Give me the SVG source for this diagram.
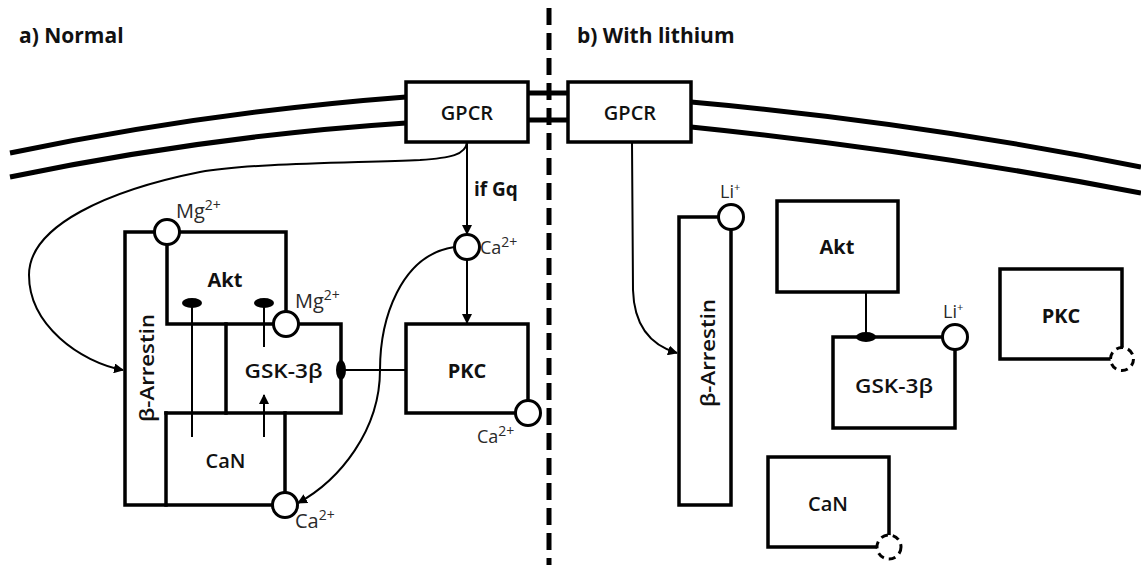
<svg xmlns="http://www.w3.org/2000/svg" width="1141" height="565" viewBox="0 0 1141 565">
<style>
text{font-family:"Open Sans","Liberation Sans",sans-serif;fill:#111}
.t{font-size:21px;font-weight:bold}
.lb{font-size:20px;text-anchor:middle;font-weight:600}
.b{font-weight:bold}
.ion{font-size:20px;fill:#2a2a2a}
.ion2{font-size:18px;fill:#2a2a2a}
.sup{font-size:14px}
.mem{fill:none;stroke:#000;stroke-width:5}
.box{fill:none;stroke:#000;stroke-width:3.5;stroke-linejoin:miter;stroke-linecap:square}
.wbox{fill:#fff;stroke:#000;stroke-width:3.5}
.c{fill:#fff;stroke:#000;stroke-width:3}
.dc{fill:#fff;stroke:#000;stroke-width:3;stroke-dasharray:7 5}
.ln{fill:none;stroke:#000;stroke-width:2}
.inh{fill:#000}
</style>
<defs>
<marker id="ah" viewBox="0 0 10 10" refX="9" refY="5" markerWidth="10" markerHeight="10" markerUnits="userSpaceOnUse" orient="auto">
<path d="M0,0 L10,5 L0,10 z" fill="#000"/>
</marker>
</defs>

<text class="t" x="19" y="43">a) Normal</text>
<text class="t" x="577" y="43">b) With lithium</text>

<line x1="549" y1="8" x2="549" y2="565" stroke="#000" stroke-width="5" stroke-dasharray="17 8"/>

<g id="membrane">
<path class="mem" d="M10,153 Q208,112 406,97"/>
<path class="mem" d="M10,177 Q208,136 406,123"/>
<line class="mem" x1="528" y1="93" x2="568" y2="93"/>
<line class="mem" x1="528" y1="120" x2="568" y2="120"/>
<path class="mem" d="M691,102 Q916,122 1141,167"/>
<path class="mem" d="M691,127 Q916,150 1141,193"/>
</g>

<g id="connectors">
<path class="ln" d="M467,142 C466,155 450,158 420,160 C350,163 250,163 200,172 C110,190 29,225 29,275 C29,325 80,362 123,370" marker-end="url(#ah)"/>
<line class="ln" x1="467" y1="142" x2="467" y2="234" marker-end="url(#ah)"/>
<line class="ln" x1="467" y1="259.5" x2="467" y2="323" marker-end="url(#ah)"/>
<path class="ln" d="M454.5,247 C400,255 380,320 380,370 C380,430 340,480 298,503" marker-end="url(#ah)"/>
<line class="ln" x1="192" y1="437" x2="192" y2="303"/>
<ellipse class="inh" cx="192" cy="303" rx="10" ry="5"/>
<line class="ln" x1="264" y1="347" x2="264" y2="303"/>
<ellipse class="inh" cx="264" cy="303" rx="10" ry="5"/>
<line class="ln" x1="264" y1="437" x2="264" y2="395" marker-end="url(#ah)"/>
<line class="ln" x1="341" y1="370" x2="406" y2="370"/>
<ellipse class="inh" cx="341" cy="370" rx="5" ry="10"/>
<path class="ln" d="M632,142 L633,290 C634,325 650,345 677,353" marker-end="url(#ah)"/>
<line class="ln" x1="866" y1="292" x2="866" y2="337"/>
<ellipse class="inh" cx="866" cy="337" rx="10" ry="5"/>
</g>

<g id="gpcr-a">
<rect class="wbox" x="406" y="82" width="122" height="60"/>
<text class="lb" x="467" y="120">GPCR</text>
</g>
<g id="gpcr-b">
<rect class="wbox" x="568" y="82" width="123" height="60"/>
<text class="lb" x="630" y="120">GPCR</text>
</g>
<text class="b" x="474" y="196" style="font-size:19px">if Gq</text>

<g id="arrestin-a">
<path class="box" d="M154.5,232 L125,232 L125,505 L272.5,505"/>
<text class="lb" transform="translate(154,368) rotate(-90)" textLength="108" lengthAdjust="spacingAndGlyphs">β-Arrestin</text>
</g>
<g id="akt-a">
<path class="box" d="M179.5,232 L286,232 L286,311.5"/>
<path class="box" d="M167,244.5 L167,324 L273.5,324"/>
<text class="lb b" x="225" y="287">Akt</text>
<circle class="c" cx="167" cy="232" r="12.5"/>
<text class="ion" x="176" y="218">Mg<tspan class="sup" dy="-8">2+</tspan></text>
</g>
<g id="gsk-a">
<path class="box" d="M298.5,324 L341,324 L341,413 L166,413"/>
<path class="box" d="M226,324 L226,413"/>
<text class="lb" x="283.5" y="378" textLength="78" lengthAdjust="spacingAndGlyphs">GSK-3β</text>
<circle class="c" cx="286" cy="324" r="12.5"/>
<text class="ion" x="295" y="308">Mg<tspan class="sup" dy="-8">2+</tspan></text>
</g>
<g id="can-a">
<path class="box" d="M166,413 L166,505"/>
<path class="box" d="M285,413 L285,492.5"/>
<text class="lb" x="225.5" y="468">CaN</text>
<circle class="c" cx="285" cy="505" r="12.5"/>
<text class="ion" x="295" y="528">Ca<tspan class="sup" dy="-8">2+</tspan></text>
</g>
<g id="ca-a">
<circle class="c" cx="467" cy="247" r="12.5"/>
<text class="ion2" x="480" y="254">Ca<tspan class="sup" dy="-7">2+</tspan></text>
</g>
<g id="pkc-a">
<path class="box" d="M528,400.5 L528,324 L406,324 L406,413 L515.5,413"/>
<text class="lb b" x="467" y="378">PKC</text>
<circle class="c" cx="528" cy="413" r="12.5"/>
<text class="ion2" x="477" y="443">Ca<tspan class="sup" dy="-7">2+</tspan></text>
</g>

<g id="arrestin-b">
<path class="box" d="M718.5,217 L679,217 L679,505 L731,505 L731,229.5"/>
<text class="lb" transform="translate(715,353) rotate(-90)" textLength="108" lengthAdjust="spacingAndGlyphs">β-Arrestin</text>
<circle class="c" cx="731" cy="217" r="12.5"/>
<text class="ion2" x="720" y="198">Li<tspan class="sup" dy="-7" style="font-size:11px">+</tspan></text>
</g>
<g id="akt-b">
<rect class="box" x="777" y="201" width="121" height="91"/>
<text class="lb b" x="837" y="254">Akt</text>
</g>
<g id="gsk-b">
<path class="box" d="M942.5,337 L833,337 L833,428 L955,428 L955,349.5"/>
<text class="lb" x="894" y="393" textLength="78" lengthAdjust="spacingAndGlyphs">GSK-3β</text>
<circle class="c" cx="955" cy="337" r="12.5"/>
<text class="ion2" x="943" y="318">Li<tspan class="sup" dy="-7" style="font-size:11px">+</tspan></text>
</g>
<g id="pkc-b">
<path class="box" d="M1122,347.5 L1122,269 L1000,269 L1000,359 L1110.5,359"/>
<text class="lb b" x="1061" y="323">PKC</text>
<circle class="dc" cx="1122" cy="359" r="11.5"/>
</g>
<g id="can-b">
<path class="box" d="M889,535 L889,457 L768,457 L768,547 L877,547"/>
<text class="lb" x="828" y="511">CaN</text>
<circle class="dc" cx="889" cy="547" r="12"/>
</g>
</svg>
